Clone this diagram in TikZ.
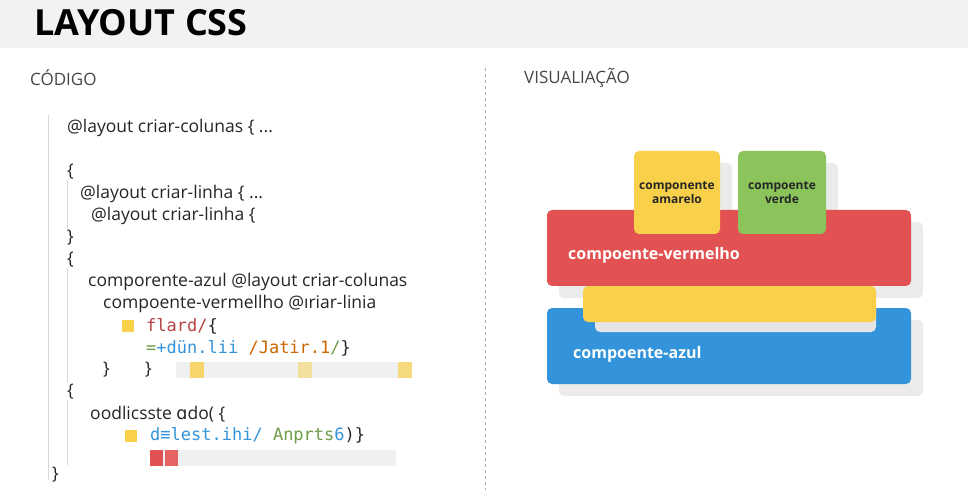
\documentclass[tikz,border=0pt]{standalone}
\usepackage{fontspec}
\setmainfont{Open Sans}
\setmonofont{DejaVu Sans Mono}
\newfontfamily\dejavu{DejaVu Sans}
\usetikzlibrary{positioning}
\definecolor{cred}{HTML}{E35252}
\definecolor{cyel}{HTML}{F8D04A}
\definecolor{cgrn}{HTML}{8BC45A}
\definecolor{cblu}{HTML}{3494DB}
\definecolor{cgry}{HTML}{EEF0F2}
\definecolor{ctxt}{HTML}{262626}
\begin{document}
\begin{tikzpicture}[x=1pt,y=-1pt]
\tikzstyle{codeline}=[anchor=west, inner sep=0pt, text=ctxt, font=\fontsize{17.5}{19}\selectfont]
\tikzstyle{monoline}=[anchor=west, inner sep=0pt, font=\ttfamily\fontsize{17}{19}\selectfont]
\tikzstyle{block}=[rounded corners=5pt]
\tikzstyle{shadow}=[rounded corners=5pt, fill=black!8]
\tikzstyle{blocklabel}=[anchor=west, inner sep=0pt, text=white, font=\bfseries\fontsize{16}{18}\selectfont]
\tikzstyle{boxlabel}=[align=center, text=ctxt, font=\bfseries\fontsize{12}{14}\selectfont]

\useasboundingbox (0,0) rectangle (968,502);
\fill[white] (0,0) rectangle (968,502);
\fill[black!5] (0,0) rectangle (968,48);
\node[anchor=west, inner sep=0pt, font=\bfseries\fontsize{36}{38}\selectfont] (title) at (34,23) {LAYOUT CSS};
\draw[black!30, dashed] (485,68) -- (485,490);

% codigo
\node[codeline, text=ctxt!85, font=\fontsize{17}{19}\selectfont] (hcod) at (30,78) {CÓDIGO};
\draw[black!15, thick] (48,115) -- (48,480);
\draw[black!15] (67,180) -- (67,232);
\draw[black!15] (67,268) -- (67,382);
\draw[black!15] (67,400) -- (67,465);
\node[codeline] (l1) at (67,128) {@layout criar-colunas \{ ...};
\node[codeline] (l2) at (67,172) {\{};
\node[codeline] (l3) at (80,194) {@layout criar-linha \{ ...};
\node[codeline] (l4) at (91,216) {@layout criar-linha \{};
\node[codeline] (l5) at (67,238) {\}};
\node[codeline] (l6) at (67,260) {\{};
\node[codeline] (l7) at (88,282) {comporente-azul @layout criar-colunas};
\node[codeline] (l8) at (103,304) {compoente-vermellho @ıriar-linia};
\fill[cyel] (122,320) rectangle (134,332);
\node[monoline, text=cred!80!black] (l9) at (146,326) {flard/\textcolor{ctxt}{\{}};
\node[monoline] (l10) at (146,348) {\textcolor{cgrn!80!black}{=}\textcolor{cblu}{+dün.lii} \textcolor{orange!80!black}{/Jatir.1}\textcolor{cgrn!80!black}{/}\textcolor{ctxt}{\}}};
\node[codeline] (l11) at (103,370) {\}};
\node[codeline] (l12) at (145,370) {\}};
\fill[cgry] (176,362) rectangle (412,378);
\foreach \xx/\op in {190/80,298/50,398/70}
  \fill[cyel, opacity=0.\op] (\xx,362) rectangle (\xx+14,378);
\node[codeline] (l13) at (67,392) {\{};
\node[codeline] (l14) at (90,414) {oodlicsste {\dejavu ɑ}do( \{};
\fill[cyel] (125,430) rectangle (137,442);
\node[monoline] (l15) at (150,436) {\textcolor{cblu}{d≡lest.ihi/} \textcolor{cgrn!80!black}{Anprts}\textcolor{cblu}{6}\textcolor{ctxt}{)\}}};
\fill[cgry] (150,450) rectangle (396,466);
\fill[cred] (150,450) rectangle (163,466);
\fill[cred!90] (165,450) rectangle (178,466);
\node[codeline] (l16) at (52,475) {\}};

% visualizacao
\node[codeline, text=ctxt!85, font=\fontsize{17}{19}\selectfont] (hvis) at (524,78) {VISUALIAÇÃO};
\fill[shadow] (559,320) rectangle (923,396);
\fill[shadow] (559,222) rectangle (923,298);
\fill[shadow] (646,163) rectangle (732,246);
\fill[shadow] (750,163) rectangle (838,246);
\fill[block, cblu] (547,308) rectangle (911,384);
\fill[block, black!10] (595,298) rectangle (876,332);
\fill[block, cyel] (583,286) rectangle (876,322);
\fill[block, cred] (547,210) rectangle (911,286);
\fill[block, cyel] (634,151) rectangle (720,234);
\fill[block, cgrn] (738,151) rectangle (826,234);
\node[blocklabel] (azul) at (573,354) {compoente-azul};
\node[blocklabel] (verm) at (568,255) {compoente-vermelho};
\node[boxlabel] (amar) at (677,193) {componente\\amarelo};
\node[boxlabel] (verd) at (782,193) {compoente\\verde};
\end{tikzpicture}
\end{document}
